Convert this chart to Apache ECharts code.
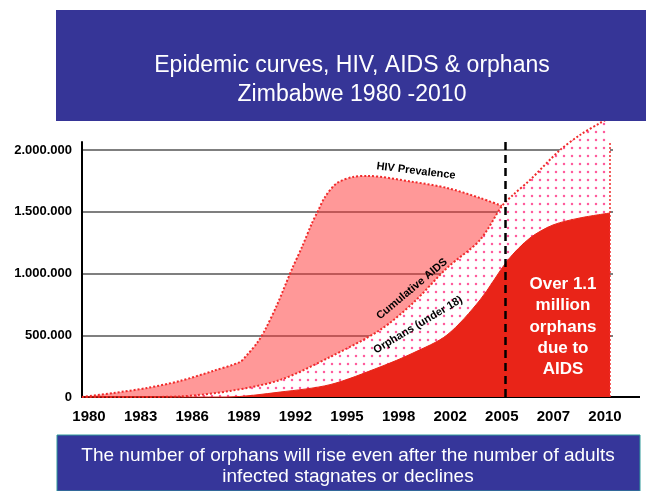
<!DOCTYPE html>
<html><head><meta charset="utf-8">
<script src="https://cdn.jsdelivr.net/npm/echarts@6/dist/echarts.min.js"></script>
<style>html,body{margin:0;padding:0;background:#fff}#c{width:646px;height:491px}</style>
</head><body><div id="c"></div>
<script>
// x values are positions in label slots: 0 = "1980" label ... 10 = "2010" label
const tickLabels = ['1980','1983','1986','1989','1992','1995','1998','2002','2005','2007','2010'];
const tickPositions = [0,1,2,3,4,5,6,7,8,9,10];
const yTicks = [0, 500000, 1000000, 1500000, 2000000];

const hivPrevalence = [[-0.136,0],[0.465,32000],[1.124,73000],[1.764,130000],[2.403,211000],[2.926,284000],[3.062,340000],[3.256,437000],[3.411,543000],[3.643,745000],[3.934,1037000],[4.128,1215000],[4.322,1409000],[4.438,1507000],[4.574,1620000],[4.806,1733000],[5.116,1782000],[5.388,1790000],[6.279,1742000],[6.938,1693000],[7.578,1612000],[8.004,1547000]];
const cumulativeAids = [[-0.136,0],[1.0,0],[1.764,5000],[2.733,49000],[3.702,138000],[4.671,324000],[5.640,543000],[6.279,761000],[6.938,1045000],[7.578,1272000],[8.004,1547000],[8.217,1636000],[8.547,1758000],[9.128,2000000],[9.516,2122000],[9.903,2219000],[10.097,2260000]];
const orphans = [[-0.136,0],[2.674,0],[3.702,40000],[4.671,100000],[5.640,243000],[6.279,356000],[6.938,502000],[7.578,786000],[8.120,1110000],[8.547,1288000],[8.992,1393000],[9.516,1450000],[10.097,1490000]];
const marker2005 = 8.06;
const endPos = 10.097;

function dotPattern(){
  const c=document.createElement('canvas'); c.width=8; c.height=8;
  const g=c.getContext('2d'); g.fillStyle='#ffffff'; g.fillRect(0,0,8,8);
  g.fillStyle='#ff5c9d'; g.beginPath(); g.arc(4,4,1.25,0,Math.PI*2); g.fill();
  return c;
}
function fmt(v){ return String(v).replace(/\B(?=(\d{3})+(?!\d))/g,'.'); }

const chart = echarts.init(document.getElementById('c'), null, {renderer:'canvas'});
const FONT = '"Liberation Sans", Arial, sans-serif';
chart.setOption({
  animation:false,
  backgroundColor:'#ffffff',
  grid:{left:82, right:33, top:142, bottom:94, containLabel:false},
  xAxis:{type:'value', min:-0.136, max:10.155,
    axisLine:{show:true, onZero:false, lineStyle:{color:'#000', width:2}},
    axisTick:{show:false},
    splitLine:{show:false},
    axisLabel:{customValues:tickPositions, formatter:v=>tickLabels[Math.round(v)], color:'#000', fontWeight:'bold', fontSize:15, fontFamily:FONT, margin:12}
  },
  yAxis:{type:'value', min:0, max:2065000,
    axisLine:{show:true, onZero:false, lineStyle:{color:'#000', width:2}},
    axisTick:{show:false, customValues:yTicks},
    splitLine:{show:true, lineStyle:{color:'#555', width:1.5}},
    axisLabel:{customValues:yTicks, formatter:v=>fmt(v), color:'#000', fontWeight:'bold', fontSize:13, fontFamily:FONT, margin:10}
  },
  series:[
    {name:'HIV Prevalence', type:'line', data:hivPrevalence, smooth:0.3, clip:false, symbol:'none', z:2,
     lineStyle:{color:'#f02a2a', width:2, type:[2,2]},
     areaStyle:{color:'rgba(255,50,50,0.5)', opacity:1}},
    {name:'Cumulative AIDS', type:'line', data:cumulativeAids, smooth:0.3, clip:false, symbol:'none', z:3,
     lineStyle:{color:'#f02a2a', width:2, type:[2,2]},
     areaStyle:{color:{image:dotPattern(), repeat:'repeat'}, opacity:1},
     markLine:{silent:true, symbol:'none', label:{show:false},
       data:[
         {xAxis:marker2005, lineStyle:{color:'#000', width:2.5, type:[8,5]}},
         {xAxis:endPos, lineStyle:{color:'#f02a2a', width:1.5, type:[2,2]}}
       ]}},
    {name:'Orphans (under 18)', type:'line', data:orphans, smooth:0.3, clip:false, symbol:'none', z:4,
     lineStyle:{color:'#e92418', width:1},
     areaStyle:{color:'#e92418', opacity:1}}
  ],
  graphic:[
    {type:'rect', z:100, shape:{x:56, y:10, width:590, height:111}, style:{fill:'#363597'}},
    {type:'text', z:101, x:352, y:80, style:{text:'Epidemic curves, HIV, AIDS & orphans\nZimbabwe 1980 -2010', fill:'#fff', font:'23px '+FONT, textAlign:'center', textVerticalAlign:'middle', lineHeight:29}},
    {type:'line', z:5, shape:{x1:613, y1:397, x2:640, y2:397}, style:{stroke:'#000', lineWidth:2}},
    {type:'text', z:20, x:416, y:171, rotation:-7*Math.PI/180, style:{text:'HIV Prevalence', fill:'#000', font:'bold 11px '+FONT, textAlign:'center', textVerticalAlign:'middle'}},
    {type:'text', z:20, x:412, y:289, rotation:40*Math.PI/180, style:{text:'Cumulative AIDS', fill:'#000', font:'bold 11px '+FONT, textAlign:'center', textVerticalAlign:'middle'}},
    {type:'text', z:20, x:418, y:325, rotation:31*Math.PI/180, style:{text:'Orphans (under 18)', fill:'#000', font:'bold 11px '+FONT, textAlign:'center', textVerticalAlign:'middle'}},
    {type:'text', z:20, x:563, y:327, style:{text:'Over 1.1\nmillion\norphans\ndue to\nAIDS', fill:'#fff', font:'bold 17px '+FONT, textAlign:'center', textVerticalAlign:'middle', lineHeight:21.3}},
    {type:'rect', z:100, shape:{x:57, y:435, width:583, height:56}, style:{fill:'#36369a', stroke:'#2e9a9a', lineWidth:1}},
    {type:'text', z:101, x:348, y:466, style:{text:'The number of orphans will rise even after the number of adults\ninfected stagnates or declines', fill:'#fff', font:'19px '+FONT, textAlign:'center', textVerticalAlign:'middle', lineHeight:21}}
  ]
});
</script></body></html>
